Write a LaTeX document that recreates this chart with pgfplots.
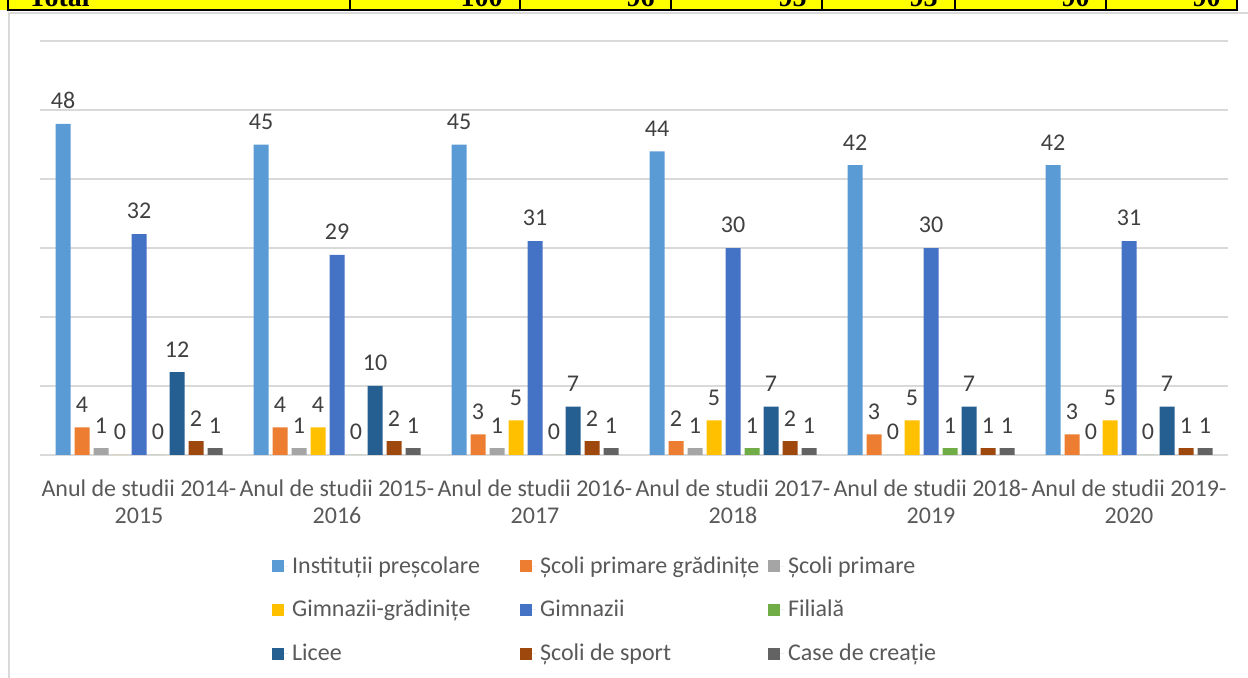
\documentclass[border=0pt]{standalone}
\usepackage{pgfplots}
\pgfplotsset{compat=1.18}
\usepackage{fontspec}
\setmainfont{Carlito}
\newfontfamily\timesfont{Liberation Serif}
\definecolor{cA}{HTML}{5B9BD5}
\definecolor{cB}{HTML}{ED7D31}
\definecolor{cC}{HTML}{A5A5A5}
\definecolor{cD}{HTML}{FFC000}
\definecolor{cE}{HTML}{4472C4}
\definecolor{cF}{HTML}{70AD47}
\definecolor{cG}{HTML}{255E91}
\definecolor{cH}{HTML}{9E480E}
\definecolor{cI}{HTML}{636363}
\definecolor{gridgray}{HTML}{D9D9D9}
\definecolor{labelgray}{HTML}{595959}
\definecolor{datagray}{HTML}{404040}
\definecolor{stripyellow}{HTML}{FFFF00}
\begin{document}
\begin{tikzpicture}
\begin{axis}[
  width=594pt, height=207pt, scale only axis,
  ymin=0, ymax=60, xmin=-0.5, xmax=5.5,
  ybar=2pt, bar width=7.5pt,
  ytick={0,10,...,60}, yticklabels={},
  ymajorgrids, grid style={color=gridgray, line width=1pt},
  axis line style={draw=none}, tick style={draw=none},
  xtick={0,...,5},
  xticklabels={{Anul de studii 2014-\\2015},{Anul de studii 2015-\\2016},{Anul de studii 2016-\\2017},{Anul de studii 2017-\\2018},{Anul de studii 2018-\\2019},{Anul de studii 2019-\\2020}},
  xticklabel style={align=center, font=\fontsize{12}{13.5}\selectfont, text=labelgray, yshift=-4.5pt},
  nodes near coords,
  nodes near coords style={font=\fontsize{12}{12}\selectfont, text=datagray, yshift=4pt},
  /pgf/number format/assume math mode=true,
  every axis plot/.append style={draw=none},
  legend columns=3,
  legend cell align=left,
  legend image code/.code={\draw[#1,draw=none] (0pt,-3pt) rectangle (6pt,3pt); \path (0pt,0pt) -- (8pt,0pt);},
  legend style={draw=none, at={(0.19,-0.2246)}, anchor=north west,
    font=\fontsize{12}{12}\selectfont, text=labelgray, row sep=8pt},
]
\addplot[fill=cA] coordinates {(0,48) (1,45) (2,45) (3,44) (4,42) (5,42)};
\addplot[fill=cB] coordinates {(0,4) (1,4) (2,3) (3,2) (4,3) (5,3)};
\addplot[fill=cC] coordinates {(0,1) (1,1) (2,1) (3,1) (4,0) (5,0)};
\addplot[fill=cD] coordinates {(0,0) (1,4) (2,5) (3,5) (4,5) (5,5)};
\addplot[fill=cE] coordinates {(0,32) (1,29) (2,31) (3,30) (4,30) (5,31)};
\addplot[fill=cF] coordinates {(0,0) (1,0) (2,0) (3,1) (4,1) (5,0)};
\addplot[fill=cG] coordinates {(0,12) (1,10) (2,7) (3,7) (4,7) (5,7)};
\addplot[fill=cH] coordinates {(0,2) (1,2) (2,2) (3,2) (4,1) (5,1)};
\addplot[fill=cI] coordinates {(0,1) (1,1) (2,1) (3,1) (4,1) (5,1)};
\addlegendentry{\makebox[112pt][l]{Instituții preșcolare}}
\addlegendentry{\makebox[112pt][l]{Școli primare grădinițe}}
\addlegendentry{Școli primare}
\addlegendentry{\makebox[112pt][l]{Gimnazii-grădinițe}}
\addlegendentry{\makebox[112pt][l]{Gimnazii}}
\addlegendentry{Filială}
\addlegendentry{\makebox[112pt][l]{Licee}}
\addlegendentry{\makebox[112pt][l]{Școli de sport}}
\addlegendentry{Case de creație}
\coordinate (sw) at (rel axis cs:0,0);
\end{axis}
\begin{scope}[shift={(sw)}, xshift=-20pt, yshift=-111.5pt, x=1pt, y=1pt]
% chart frame
\draw[color=gridgray, line width=1.2pt] (4.6,-5) -- (4.6,332.5) -- (630,332.5);
% yellow table strip (cut off at the top)
\fill[stripyellow] (0,334) rectangle (618.5,342);
\begin{scope}
\clip (0,334) rectangle (624,339);
\node[anchor=base west, inner sep=0pt, font=\timesfont\bfseries\fontsize{14}{14}\selectfont] at (14,335.5) {Total};
\node[anchor=base east, inner sep=0pt, font=\timesfont\bfseries\fontsize{14}{14}\selectfont] at (251.5,335.5) {100};
\node[anchor=base east, inner sep=0pt, font=\timesfont\bfseries\fontsize{14}{14}\selectfont] at (327.5,335.5) {96};
\node[anchor=base east, inner sep=0pt, font=\timesfont\bfseries\fontsize{14}{14}\selectfont] at (403.5,335.5) {95};
\node[anchor=base east, inner sep=0pt, font=\timesfont\bfseries\fontsize{14}{14}\selectfont] at (469,335.5) {93};
\node[anchor=base east, inner sep=0pt, font=\timesfont\bfseries\fontsize{14}{14}\selectfont] at (545,335.5) {90};
\node[anchor=base east, inner sep=0pt, font=\timesfont\bfseries\fontsize{14}{14}\selectfont] at (610.5,335.5) {90};
\end{scope}
\draw[black, line width=1pt] (3.9,333.8) -- (618.5,333.8);
\foreach \xx in {3.9,175,260,335.5,411,477.5,553,618.5}
  \draw[black, line width=1pt] (\xx,333.3) -- (\xx,342);
\pgfresetboundingbox
\path[use as bounding box] (0,0) rectangle (624,339);
\end{scope}
\end{tikzpicture}
\end{document}
